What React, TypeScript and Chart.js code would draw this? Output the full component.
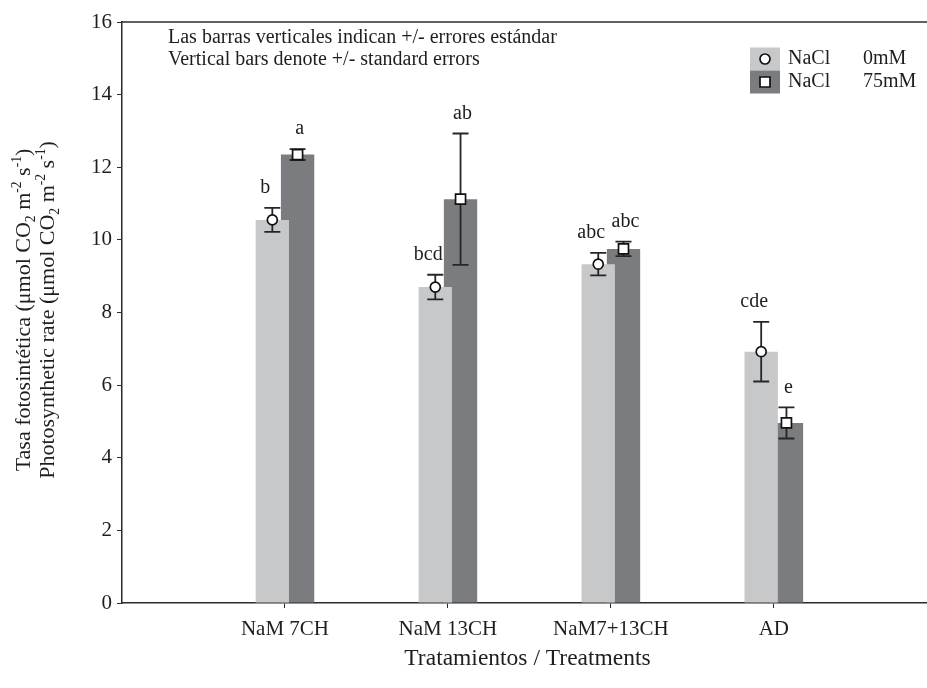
import React, { useEffect, useRef } from 'react';
import { Chart, registerables } from 'chart.js';

Chart.register(...registerables);

// ---------- data ----------
const categories = ['NaM 7CH', 'NaM 13CH', 'NaM7+13CH', 'AD'];
const salt0Means = [10.55, 8.7, 9.33, 6.92];
const salt0Errors = [0.33, 0.34, 0.31, 0.82];
const salt75Means = [12.35, 11.12, 9.75, 4.96];
const salt75Errors = [0.15, 1.81, 0.2, 0.43];
const salt0Letters = ['b', 'bcd', 'abc', 'cde'];
const salt75Letters = ['a', 'ab', 'abc', 'e'];
const yMin = 0;
const yMax = 16;
const yStep = 2;
const saltName = 'NaCl';
const concentrations = ['0mM', '75mM'];
const noteLines = [
  'Las barras verticales indican +/- errores estándar',
  'Vertical bars denote +/- standard errors',
];
const xTitle = 'Tratamientos / Treatments';
type Seg = { t: string; s?: 'sub' | 'sup' };
const yTitleLines: Seg[][] = [
  [
    { t: 'Tasa fotosintética (μmol CO' },
    { t: '2', s: 'sub' },
    { t: ' m' },
    { t: '-2', s: 'sup' },
    { t: ' s' },
    { t: '-1', s: 'sup' },
    { t: ')' },
  ],
  [
    { t: 'Photosynthetic rate (μmol CO' },
    { t: '2', s: 'sub' },
    { t: ' m' },
    { t: '-2', s: 'sup' },
    { t: ' s' },
    { t: '-1', s: 'sup' },
    { t: ')' },
  ],
];

// ---------- style ----------
const FONT = '"Liberation Serif", "DejaVu Serif", serif';
const TEXT = '#1e1e1e';
const AXIS = '#2b2b2b';
const LIGHT = '#c7c8ca';
const DARK = '#7b7c80';
const W = 927;
const H = 688;

function drawMarker(ctx: CanvasRenderingContext2D, kind: number, x: number, y: number) {
  ctx.save();
  ctx.fillStyle = '#ffffff';
  ctx.strokeStyle = '#111111';
  ctx.lineWidth = 1.7;
  ctx.beginPath();
  if (kind === 0) {
    ctx.arc(x, y, 5, 0, Math.PI * 2);
  } else {
    ctx.rect(x - 5, y - 5, 10, 10);
  }
  ctx.fill();
  ctx.stroke();
  ctx.restore();
}

function drawRich(ctx: CanvasRenderingContext2D, segs: Seg[], cx: number, cy: number, fs: number) {
  ctx.save();
  ctx.translate(cx, cy);
  ctx.rotate(-Math.PI / 2);
  ctx.fillStyle = TEXT;
  ctx.textBaseline = 'alphabetic';
  ctx.textAlign = 'left';
  const sizeOf = (s: Seg) => (s.s ? fs * 0.62 : fs);
  let total = 0;
  for (const s of segs) {
    ctx.font = `${sizeOf(s)}px ${FONT}`;
    total += ctx.measureText(s.t).width;
  }
  let x = -total / 2;
  const base = fs * 0.33;
  for (const s of segs) {
    ctx.font = `${sizeOf(s)}px ${FONT}`;
    let y = base;
    if (s.s === 'sub') y += fs * 0.22;
    if (s.s === 'sup') y -= fs * 0.42;
    ctx.fillText(s.t, x, y);
    x += ctx.measureText(s.t).width;
  }
  ctx.restore();
}

const overlayPlugin = {
  id: 'overlay',
  afterDatasetsDraw(chart: any) {
    const ctx: CanvasRenderingContext2D = chart.ctx;
    const yScale = chart.scales.y;
    const area = chart.chartArea;
    const means = [salt0Means, salt75Means];
    const errs = [salt0Errors, salt75Errors];
    const letters = [salt0Letters, salt75Letters];

    // top frame line
    ctx.save();
    ctx.strokeStyle = AXIS;
    ctx.lineWidth = 1.5;
    ctx.beginPath();
    ctx.moveTo(area.left, area.top);
    ctx.lineTo(area.right, area.top);
    ctx.stroke();
    ctx.restore();

    for (let d = 0; d < 2; d++) {
      const meta = chart.getDatasetMeta(d);
      meta.data.forEach((el: any, i: number) => {
        const x = el.x;
        const m = means[d][i];
        const e = errs[d][i];
        const yTop = yScale.getPixelForValue(m + e);
        const yBot = yScale.getPixelForValue(m - e);
        const yMid = yScale.getPixelForValue(m);
        ctx.save();
        ctx.strokeStyle = '#262626';
        ctx.lineWidth = 1.8;
        ctx.beginPath();
        ctx.moveTo(x, yTop);
        ctx.lineTo(x, yBot);
        ctx.moveTo(x - 8, yTop);
        ctx.lineTo(x + 8, yTop);
        ctx.moveTo(x - 8, yBot);
        ctx.lineTo(x + 8, yBot);
        ctx.stroke();
        ctx.restore();
        drawMarker(ctx, d, x, yMid);

        ctx.save();
        ctx.fillStyle = TEXT;
        ctx.font = `20px ${FONT}`;
        ctx.textAlign = 'center';
        ctx.textBaseline = 'middle';
        const lx = d === 0 ? x - 7 : x + 2;
        ctx.fillText(letters[d][i], lx, yTop - 20);
        ctx.restore();
      });
    }

    // notes
    ctx.save();
    ctx.fillStyle = TEXT;
    ctx.font = `20px ${FONT}`;
    ctx.textAlign = 'left';
    ctx.textBaseline = 'middle';
    noteLines.forEach((t, i) => ctx.fillText(t, 168, 38 + i * 22));
    ctx.restore();

    // legend
    const colors = [LIGHT, DARK];
    concentrations.forEach((c, i) => {
      const cy = 59 + i * 23;
      ctx.save();
      ctx.fillStyle = colors[i];
      ctx.fillRect(750, cy - 11.5, 30, 23);
      ctx.restore();
      drawMarker(ctx, i, 765, cy);
      ctx.save();
      ctx.fillStyle = TEXT;
      ctx.font = `20px ${FONT}`;
      ctx.textAlign = 'left';
      ctx.textBaseline = 'middle';
      ctx.fillText(saltName, 788, cy);
      ctx.fillText(c, 863, cy);
      ctx.restore();
    });

    // axis titles
    ctx.save();
    ctx.fillStyle = TEXT;
    ctx.font = `23.5px ${FONT}`;
    ctx.textAlign = 'center';
    ctx.textBaseline = 'middle';
    ctx.fillText(xTitle, (area.left + area.right) / 2 + 3, 659);
    ctx.restore();
    drawRich(ctx, yTitleLines[0], 23, 310, 22);
    drawRich(ctx, yTitleLines[1], 47, 310, 22);
  },
};

export default function App() {
  const ref = useRef<HTMLCanvasElement | null>(null);
  useEffect(() => {
    if (!ref.current) return;
    const chart = new Chart(ref.current, {
      type: 'bar',
      data: {
        datasets: [
          {
            label: `${saltName} ${concentrations[0]}`,
            data: categories.map((_, i) => ({ x: i + 1, y: salt0Means[i] })),
            backgroundColor: LIGHT,
            borderWidth: 0,
          },
          {
            label: `${saltName} ${concentrations[1]}`,
            data: categories.map((_, i) => ({ x: i + 1, y: salt75Means[i] })),
            backgroundColor: DARK,
            borderWidth: 0,
          },
        ],
      },
      options: {
        animation: false,
        responsive: false,
        devicePixelRatio: 1,
        categoryPercentage: 0.31,
        barPercentage: 1.32,
        layout: { padding: { top: 22, right: 0, left: 0, bottom: 0 } },
        plugins: {
          legend: { display: false },
          tooltip: { enabled: false },
          title: { display: false },
        },
        scales: {
          x: {
            type: 'linear',
            min: 0,
            max: 4.94,
            offset: false,
            afterBuildTicks: (scale: any) => {
              scale.ticks = categories.map((_, i) => ({ value: i + 1 }));
            },
            afterFit: (scale: any) => {
              scale.height = 85;
            },
            ticks: {
              autoSkip: false,
              maxRotation: 0,
              padding: 9,
              color: TEXT,
              font: { family: FONT, size: 21 },
              callback: (v: any) => categories[Math.round(Number(v)) - 1] ?? '',
            },
            grid: {
              display: true,
              drawOnChartArea: false,
              drawTicks: true,
              tickLength: 5,
              color: AXIS,
              offset: false,
            },
            border: { display: true, color: AXIS, width: 1.5 },
          },
          y: {
            min: yMin,
            max: yMax,
            afterFit: (scale: any) => {
              scale.width = 122;
            },
            ticks: {
              stepSize: yStep,
              padding: 5,
              color: TEXT,
              font: { family: FONT, size: 21 },
            },
            grid: {
              display: true,
              drawOnChartArea: false,
              drawTicks: true,
              tickLength: 5,
              color: AXIS,
            },
            border: { display: true, color: AXIS, width: 1.5 },
          },
        },
      } as any,
      plugins: [overlayPlugin],
    });
    return () => chart.destroy();
  }, []);
  return (
    <div style={{ position: 'absolute', left: 0, top: 0, width: W, height: H, background: '#fff' }}>
      <canvas ref={ref} width={W} height={H} style={{ display: 'block', width: W, height: H }} />
    </div>
  );
}
